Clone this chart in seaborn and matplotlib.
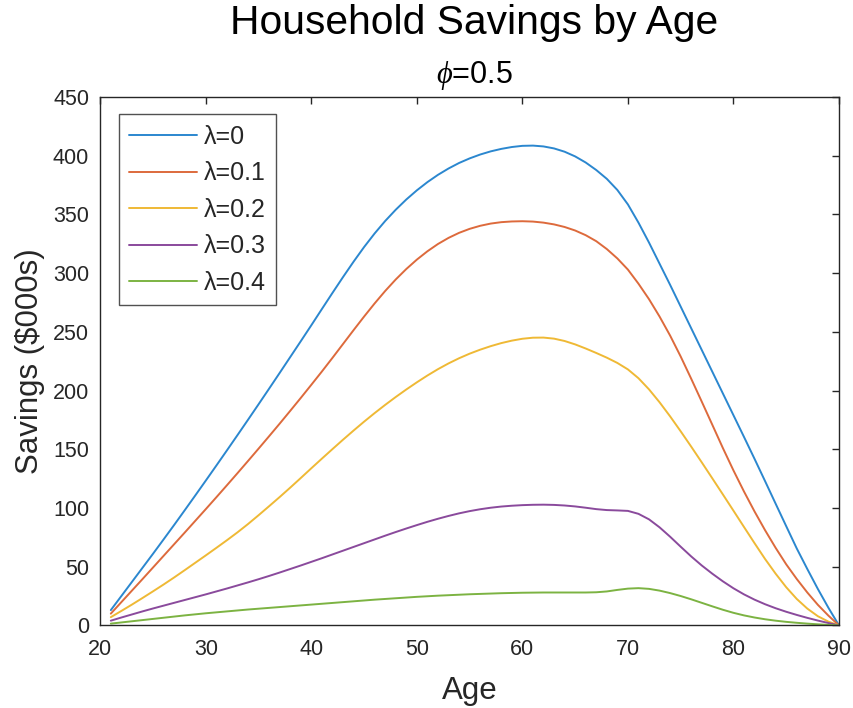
import numpy as np
import pandas as pd
import matplotlib
matplotlib.use("Agg")
import matplotlib.pyplot as plt
import seaborn as sns

# Household savings ($000s) by age, one series per lambda value
ages = list(range(21, 91))

sav_l0 = [13, 25, 37, 49, 61, 73.2, 85.5, 98, 110.6, 123.3,
          136.1, 149, 162, 175.1, 188.3, 201.6, 215, 228.5, 242, 255.6,
          269.4, 283.1, 296.6, 309.7, 322.2, 333.8, 344.4, 354, 362.7, 370.5,
          377.5, 383.7, 389.1, 393.8, 397.7, 401, 403.7, 405.8, 407.4, 408.4,
          408.6, 407.9, 406.2, 403.4, 399.4, 394.2, 387.8, 380.3, 370.8, 358.5,
          343, 326, 308, 290, 271.5, 253, 234.5, 216, 197.5, 179,
          160.5, 141.8, 122.8, 103.6, 84.5, 65.5, 48, 31, 15, 0]
sav_l1 = [10, 19.8, 29.6, 39.4, 49.3, 59.2, 69.1, 79, 89, 99,
          109.1, 119.3, 129.6, 140, 150.5, 161.1, 171.8, 182.7, 193.7, 204.9,
          216.2, 227.8, 239.6, 251.4, 263, 274.2, 284.8, 294.6, 303.5, 311.5,
          318.6, 324.8, 330, 334.3, 337.7, 340.3, 342.2, 343.4, 344, 344.2,
          343.9, 343, 341.5, 339.3, 336.3, 332.3, 327.2, 320.5, 312.5, 303,
          291, 277.8, 263, 246.8, 229, 210, 190.5, 170.8, 151, 132,
          114, 97, 81, 66, 52, 39.5, 28, 17.5, 8.3, 0]
sav_l2 = [7, 12.3, 17.7, 23.3, 29, 34.8, 40.8, 47, 53.3, 59.6,
          66, 72.5, 79.2, 86.3, 93.8, 101.5, 109.3, 117.3, 125.5, 133.8,
          142, 150.1, 158.1, 165.9, 173.5, 180.8, 187.8, 194.5, 200.9, 207,
          212.8, 218.2, 223.1, 227.5, 231.4, 234.8, 237.8, 240.4, 242.5, 244.1,
          245, 245.1, 244.2, 242.2, 239.3, 235.8, 232, 228, 223.5, 218,
          210.5, 201, 190, 178, 165.3, 152.2, 138.8, 125.2, 111.5, 97.7,
          83.8, 70, 56.5, 44, 32.5, 22.5, 14.3, 7.8, 3.2, 0]
sav_l3 = [4, 6.7, 9.3, 11.9, 14.4, 16.8, 19.2, 21.6, 24, 26.4,
          28.9, 31.4, 34, 36.6, 39.3, 42.1, 45, 48, 51, 54.1,
          57.2, 60.4, 63.6, 66.8, 70, 73.2, 76.4, 79.5, 82.5, 85.4,
          88.2, 90.8, 93.2, 95.4, 97.3, 98.9, 100.2, 101.2, 101.9, 102.4,
          102.7, 102.8, 102.6, 102.1, 101.3, 100.2, 99, 98.2, 97.9, 97.5,
          95, 90.3, 83.5, 75.5, 67, 58.7, 51, 44, 37.5, 31.6,
          26.4, 21.9, 18, 14.6, 11.6, 8.9, 6.4, 4.1, 2, 0]
sav_l4 = [1.5, 2.5, 3.5, 4.5, 5.5, 6.5, 7.5, 8.5, 9.4, 10.3,
          11.1, 11.9, 12.7, 13.5, 14.2, 14.9, 15.6, 16.3, 17, 17.7,
          18.4, 19.1, 19.8, 20.5, 21.2, 21.9, 22.5, 23.1, 23.7, 24.3,
          24.8, 25.3, 25.7, 26.1, 26.5, 26.8, 27.1, 27.4, 27.6, 27.8,
          27.9, 28, 28, 28, 28, 28, 28.2, 28.9, 30.2, 31.3,
          31.7, 31.1, 29.6, 27.5, 25, 22.2, 19.2, 16.2, 13.3, 10.7,
          8.5, 6.7, 5.2, 4, 3, 2.2, 1.5, 0.9, 0.4, 0]

labels = ["λ=0", "λ=0.1", "λ=0.2", "λ=0.3", "λ=0.4"]
series = [sav_l0, sav_l1, sav_l2, sav_l3, sav_l4]
colors = ["#2b87cf", "#dd6a3c", "#efb935", "#8a4a9c", "#7cb342"]

df = pd.concat(
    [pd.DataFrame({"Age": ages, "Savings": s, "lam": lab}) for s, lab in zip(series, labels)],
    ignore_index=True,
)

sns.set_style("white")
plt.rcParams["font.family"] = ["Liberation Sans", "DejaVu Sans"]
plt.rcParams["mathtext.fontset"] = "custom"
plt.rcParams["mathtext.it"] = "Liberation Serif:italic"
plt.rcParams["mathtext.rm"] = "Liberation Sans"

axis_gray = "#262626"

fig = plt.figure(figsize=(8.54, 7.08), dpi=100)
ax = fig.add_axes([0.1174, 0.1167, 0.9824 - 0.1174, 0.863 - 0.1167])

sns.lineplot(data=df, x="Age", y="Savings", hue="lam", palette=colors,
             linewidth=1.4, ax=ax, legend=False)

for line, lab in zip(ax.get_lines(), labels):
    line.set_label(lab)

ax.set_xlim(20, 90)
ax.set_ylim(0, 450)
ax.set_xticks(np.arange(20, 91, 10))
ax.set_yticks(np.arange(0, 451, 50))

ax.tick_params(axis="both", which="both", direction="in", length=5, width=1,
               top=True, right=True, labelsize=15.5, colors=axis_gray,
               labelcolor=axis_gray)
ax.tick_params(axis="x", pad=10)
ax.tick_params(axis="y", pad=8)
for sp in ax.spines.values():
    sp.set_color(axis_gray)
    sp.set_linewidth(1.0)
    sp.set_visible(True)

ax.set_xlabel("Age", fontsize=22.5, color=axis_gray)
ax.set_ylabel(r"Savings (\$000s)", fontsize=22.5, color=axis_gray)
ax.xaxis.set_label_coords(0.5, -0.0955)
ax.yaxis.set_label_coords(-0.075, 0.5)

cx = 474 / 854
fig.text(cx, 1 - 34 / 708, "Household Savings by Age", ha="center", va="baseline",
         fontsize=29.3, color="black")
fig.text(cx, 1 - 83 / 708, r"$\phi$=0.5", ha="center", va="baseline",
         fontsize=22, color="black")

leg = ax.legend(loc="upper left", bbox_to_anchor=(0.0253, 0.9673), fontsize=18,
                frameon=True, fancybox=False, edgecolor=axis_gray,
                handlelength=2.72, handletextpad=0.24, labelspacing=0.5,
                borderpad=0.42, borderaxespad=0)
leg.get_frame().set_linewidth(1.0)

fig.savefig("out.png", dpi=100)
